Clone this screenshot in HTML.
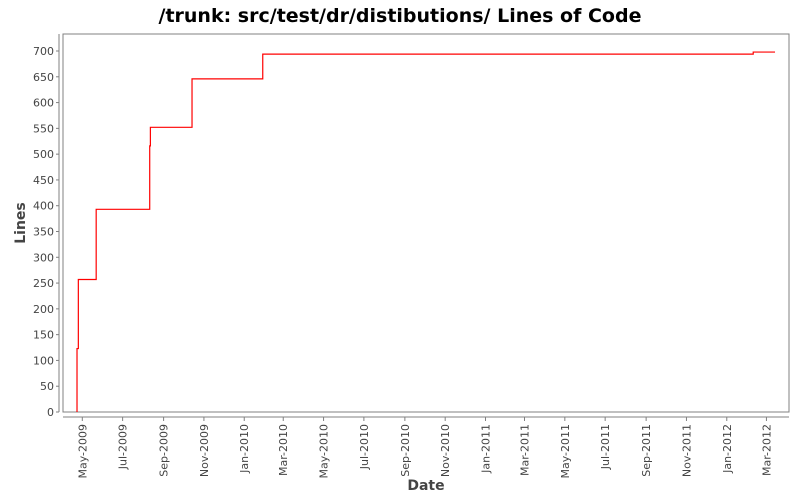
<!DOCTYPE html>
<html><head><meta charset="utf-8"><style>
body{margin:0;background:#fff;font-family:"DejaVu Sans","Liberation Sans",sans-serif}
</style></head><body>
<svg width="800" height="500" xmlns="http://www.w3.org/2000/svg">
<text x="400" y="22" text-anchor="middle" font-size="19" font-weight="bold" fill="#000">/trunk: src/test/dr/distibutions/ Lines of Code</text>
<rect x="63" y="34" width="726" height="378" fill="#fff" stroke="#808080" stroke-width="1"/>
<g id="yaxis"></g>
<g id="xaxis"></g>
<g id="series"></g>
<text x="426" y="490" text-anchor="middle" font-size="14" font-weight="bold" fill="#444">Date</text>
<text transform="translate(25,223) rotate(-90)" text-anchor="middle" font-size="14" font-weight="bold" fill="#444">Lines</text>
</svg>
<script>
const dates=["2009-04-23","2009-04-25","2009-05-22","2009-08-11","2009-08-12","2009-10-14","2010-01-29","2012-02-10","2012-03-14"];
const values=[123,257,393,516,552,646,694,698,698];
const yTicks=[0,50,100,150,200,250,300,350,400,450,500,550,600,650,700];
const xTickLabels=["May-2009","Jul-2009","Sep-2009","Nov-2009","Jan-2010","Mar-2010","May-2010","Jul-2010","Sep-2010","Nov-2010","Jan-2011","Mar-2011","May-2011","Jul-2011","Sep-2011","Nov-2011","Jan-2012","Mar-2012"];
const NS="http://www.w3.org/2000/svg";
const t0=Date.UTC(2009,4,1), pxDay=0.661, x0=82.3;
function xs(d){return x0+(Date.parse(d)-t0)/86400000*pxDay;}
function ys(v){return 412-v*0.5157;}
function mk(tag,attrs,parent){const e=document.createElementNS(NS,tag);for(const k in attrs)e.setAttribute(k,attrs[k]);parent.appendChild(e);return e;}
const ya=document.getElementById('yaxis');
mk('line',{x1:59,y1:34,x2:59,y2:412,stroke:'#808080'},ya);
yTicks.forEach(v=>{
 const y=ys(v);
 mk('line',{x1:56,y1:y,x2:59,y2:y,stroke:'#808080'},ya);
 const t=mk('text',{x:54,y:y+4,'text-anchor':'end','font-size':11,fill:'#444'},ya);
 t.textContent=v;
 
 
});
const xa=document.getElementById('xaxis');
mk('line',{x1:63,y1:417,x2:789,y2:417,stroke:'#808080'},xa);
xTickLabels.forEach(lbl=>{
 const [mon,yr]=lbl.split('-');
 const m=["Jan","Feb","Mar","Apr","May","Jun","Jul","Aug","Sep","Oct","Nov","Dec"].indexOf(mon);
 const d=yr+'-'+String(m+1).padStart(2,'0')+'-01';
 const x=xs(d);
 mk('line',{x1:x,y1:417,x2:x,y2:421,stroke:'#808080'},xa);
 const t=mk('text',{transform:`translate(${x+4},424) rotate(-90)`,'text-anchor':'end','font-size':11,fill:'#444'},xa);
 t.textContent=lbl;
 
 
});
const s=document.getElementById('series');
let p=`M${xs(dates[0])},${ys(0)}`;
for(let i=0;i<dates.length;i++){
 const x=xs(dates[i]);
 p+=` L${x},${i?ys(values[i-1]):ys(0)} L${x},${ys(values[i])}`;
}
const path=mk('path',{d:p,fill:'none',stroke:'#ff0000','stroke-width':1.2},s);


</script>
</body></html>
